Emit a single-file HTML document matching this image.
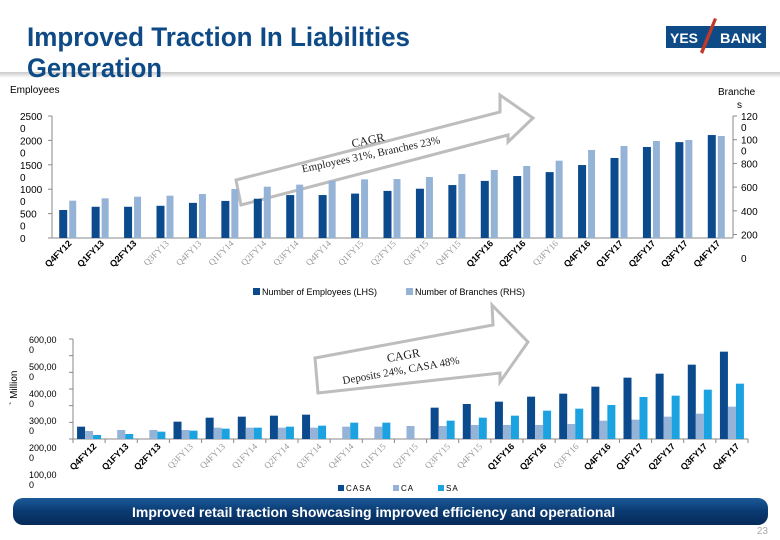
<!DOCTYPE html>
<html><head><meta charset="utf-8">
<style>
body{margin:0;background:#fff;}
#wrap{position:relative;width:780px;height:540px;overflow:hidden;font-family:"Liberation Sans",sans-serif;}
</style></head>
<body>
<div id="wrap">
<svg id="svg" width="780" height="540" viewBox="0 0 780 540" xmlns="http://www.w3.org/2000/svg" font-family="Liberation Sans, sans-serif">
<defs>
<linearGradient id="shade" x1="0" y1="0" x2="0" y2="1"><stop offset="0" stop-color="#c8c8c8"/><stop offset="1" stop-color="#fff"/></linearGradient>
<linearGradient id="ban" x1="0" y1="0" x2="0" y2="1"><stop offset="0" stop-color="#1c5a98"/><stop offset="0.5" stop-color="#0a3a72"/><stop offset="1" stop-color="#062a58"/></linearGradient>
</defs>
<rect x="0" y="72" width="780" height="6" fill="url(#shade)"/>
<text x="27" y="46" font-weight="bold" font-size="27" fill="#0e4a86" textLength="383" lengthAdjust="spacingAndGlyphs">Improved Traction In Liabilities</text>
<text x="27" y="77" font-weight="bold" font-size="27" fill="#0e4a86" textLength="135" lengthAdjust="spacingAndGlyphs">Generation</text>
<g>
<rect x="666" y="26" width="100" height="22" fill="#0e4a86"/>
<text x="670" y="43" font-weight="bold" font-size="14" fill="#fff" textLength="28" lengthAdjust="spacingAndGlyphs">YES</text>
<text x="720" y="43" font-weight="bold" font-size="14" fill="#fff" textLength="42" lengthAdjust="spacingAndGlyphs">BANK</text>
<polygon points="714,18 717,19 703,54 700,52" fill="#c0392b"/>
</g>
<text x="10" y="93" font-size="10" fill="#000">Employees</text>
<text x="718" y="95" font-size="10" fill="#000">Branche</text>
<text x="737" y="108" font-size="10" fill="#000">s</text>

<polygon points="236,180 500,112 500,95 533,118 508,142 508,135 241,205" fill="#fff" stroke="#bdbdbd" stroke-width="3"/>
<g transform="rotate(-12 370 150)">
<text x="370" y="144" font-family="Liberation Serif,serif" font-size="12" text-anchor="middle" fill="#222">CAGR</text>
<text x="370" y="158" font-family="Liberation Serif,serif" font-size="11" text-anchor="middle" fill="#222">Employees 31%, Branches 23%</text>
</g>
<polygon points="315,358 493,325 492,305 528,342 500,382 500,373 318,393" fill="#fff" stroke="#bdbdbd" stroke-width="3"/>
<g transform="rotate(-10 400 365)">
<text x="405" y="360" font-family="Liberation Serif,serif" font-size="12" text-anchor="middle" fill="#222">CAGR</text>
<text x="400" y="374" font-family="Liberation Serif,serif" font-size="11" text-anchor="middle" fill="#222">Deposits 24%, CASA 48%</text>
</g>

<g id="topChart"></g>
<g id="botChart"></g>

<text transform="translate(17,405) rotate(-90)" font-size="10" fill="#000">` Million</text>

<rect x="13" y="498" width="755" height="27" rx="10" fill="url(#ban)"/>
<text x="132" y="517" font-size="14" font-weight="bold" fill="#fff">Improved retail traction showcasing improved efficiency and operational</text>
<text x="768" y="534" font-size="10" fill="#aaa" text-anchor="end">23</text>
</svg>
</div>
<script>
const categories=["Q4FY12","Q1FY13","Q2FY13","Q3FY13","Q4FY13","Q1FY14","Q2FY14","Q3FY14","Q4FY14","Q1FY15","Q2FY15","Q3FY15","Q4FY15","Q1FY16","Q2FY16","Q3FY16","Q4FY16","Q1FY17","Q2FY17","Q3FY17","Q4FY17"];
const boldLabels=[true,true,true,false,false,false,false,false,false,false,false,false,false,true,true,false,true,true,true,true,true];
const employees=[5740,6400,6400,6600,7200,7600,8050,8800,8800,9100,9650,10100,10850,11700,12700,13500,14950,16400,18650,19650,21100];
const branches=[366,389,405,415,431,480,503,523,562,575,578,598,627,667,706,758,863,902,951,961,1000];
const leftTicks=["2500","2000","1500","1000","500","0"];
const rightTicks=["120","100","800","600","400","200","0"];
const casa=[74,0,0,104,128,134,140,146,0,0,0,188,210,224,254,272,314,368,392,446,524];
const ca=[48,54,54,54,68,68,68,68,74,74,78,78,84,84,84,90,110,116,134,152,194];
const sa=[24,30,44,50,62,68,74,80,98,98,0,110,128,140,170,182,204,252,260,296,332];
const botTicks=["600,00","500,00","400,00","300,00","200,00","100,00"];

const NS="http://www.w3.org/2000/svg";
function mk(parent,tag,attrs){const e=document.createElementNS(NS,tag);for(const k in attrs)e.setAttribute(k,attrs[k]);parent.appendChild(e);return e;}
const topG=document.getElementById('topChart'), botG=document.getElementById('botChart');

const tX0=52,tX1=733,tBase=238;
const tStep=(tX1-tX0)/categories.length;
const yEmp=v=>tBase-v*(24.4/5000);
const yBr=v=>tBase-v*(102/1000);
let l=mk(topG,'line',{x1:tX0,y1:116,x2:tX0,y2:tBase,stroke:'#888'});


l=mk(topG,'line',{x1:tX1,y1:116,x2:tX1,y2:tBase,stroke:'#888'});


l=mk(topG,'line',{x1:tX0,y1:tBase,x2:tX1,y2:tBase,stroke:'#888'});


leftTicks.forEach((t,i)=>{
  const y=116+i*24.4;
  mk(topG,'line',{x1:tX0-4,y1:y,x2:tX0,y2:y,stroke:'#888'});
  const tx=mk(topG,'text',{x:20,y:y+4,'font-size':10,fill:'#000'});
  
  
  tx.textContent=t;
  if(t!=="0"){const t2=mk(topG,'text',{x:20,y:y+16,'font-size':10,fill:'#000'});t2.textContent="0";}
});
rightTicks.forEach((t,i)=>{
  const y=116+i*23.7;
  if(y<=tBase) mk(topG,'line',{x1:tX1,y1:y,x2:tX1+4,y2:y,stroke:'#888'});
  const tx=mk(topG,'text',{x:741,y:y+4,'font-size':10,fill:'#000'});
  
  
  tx.textContent=t;
  if(t==="120"||t==="100"){const t2=mk(topG,'text',{x:741,y:y+15,'font-size':10,fill:'#000'});t2.textContent="0";}
});
categories.forEach((c,i)=>{
  const cx=tX0+tStep*(i+0.5);
  let r=mk(topG,'rect',{x:cx-9,y:yEmp(employees[i]),width:8,height:tBase-yEmp(employees[i]),fill:'#0b4a8c'});
  
  
  r=mk(topG,'rect',{x:cx+1,y:yBr(branches[i]),width:7,height:tBase-yBr(branches[i]),fill:'#95b3d7'});
  
  
  const t=mk(topG,'text',{transform:`translate(${cx+4},${tBase+6}) rotate(-45)`,'text-anchor':'end','font-size':9,
    'font-weight':boldLabels[i]?'bold':'normal',fill:boldLabels[i]?'#000':'#999','font-family':boldLabels[i]?'Liberation Sans, sans-serif':'Liberation Serif, serif'});
  
  
  t.textContent=c;
});
let lg=mk(topG,'rect',{x:253,y:288,width:7,height:7,fill:'#0b4a8c'});


lg=mk(topG,'text',{x:262,y:295,'font-size':9,fill:'#000'});lg.textContent="Number of Employees (LHS)";


lg=mk(topG,'rect',{x:406,y:288,width:7,height:7,fill:'#95b3d7'});


lg=mk(topG,'text',{x:415,y:295,'font-size':9,fill:'#000'});lg.textContent="Number of Branches (RHS)";



const bX0=73,bX1=748,bBase=439;
const bStep=(bX1-bX0)/categories.length;
const yB=v=>bBase-v*(100/600);
l=mk(botG,'line',{x1:bX0,y1:339,x2:bX0,y2:bBase,stroke:'#888'});


l=mk(botG,'line',{x1:bX0,y1:bBase,x2:bX1,y2:bBase,stroke:'#888'});


for(let i=0;i<=6;i++){const y=339+i*100/6;mk(botG,'line',{x1:bX0-4,y1:y,x2:bX0,y2:y,stroke:'#888'});}
for(let i=0;i<=categories.length;i++){const x=bX0+i*bStep;mk(botG,'line',{x1:x,y1:bBase,x2:x,y2:bBase+4,stroke:'#888'});}
botTicks.forEach((t,i)=>{
  const y=343+i*27;
  const tx=mk(botG,'text',{x:29,y:y,'font-size':9,fill:'#000'});
  
  
  tx.textContent=t;
  const t2=mk(botG,'text',{x:29,y:y+10,'font-size':9,fill:'#000'});t2.textContent="0";
});
categories.forEach((c,i)=>{
  const cx=bX0+bStep*(i+0.5);
  let r=mk(botG,'rect',{x:cx-12,y:yB(casa[i]),width:8,height:bBase-yB(casa[i]),fill:'#0b4a8c'});
  
  
  r=mk(botG,'rect',{x:cx-4,y:yB(ca[i]),width:8,height:bBase-yB(ca[i]),fill:'#95b3d7'});
  
  
  r=mk(botG,'rect',{x:cx+4,y:yB(sa[i]),width:8,height:bBase-yB(sa[i]),fill:'#1aa3e0'});
  
  
  const t=mk(botG,'text',{transform:`translate(${cx+8},${bBase+8}) rotate(-45)`,'text-anchor':'end','font-size':9,
    'font-weight':boldLabels[i]?'bold':'normal',fill:boldLabels[i]?'#000':'#999','font-family':boldLabels[i]?'Liberation Sans, sans-serif':'Liberation Serif, serif'});
  
  
  t.textContent=c;
});
[["CASA",338,'#0b4a8c'],["CA",393,'#95b3d7'],["SA",438,'#1aa3e0']].forEach(d=>{
  let s=mk(botG,'rect',{x:d[1],y:485,width:6,height:6,fill:d[2]});
  
  
  let t=mk(botG,'text',{x:d[1]+8,y:491,'font-size':8,fill:'#000','letter-spacing':'1'});
  
  
  t.textContent=d[0];
});
</script>
</body></html>
